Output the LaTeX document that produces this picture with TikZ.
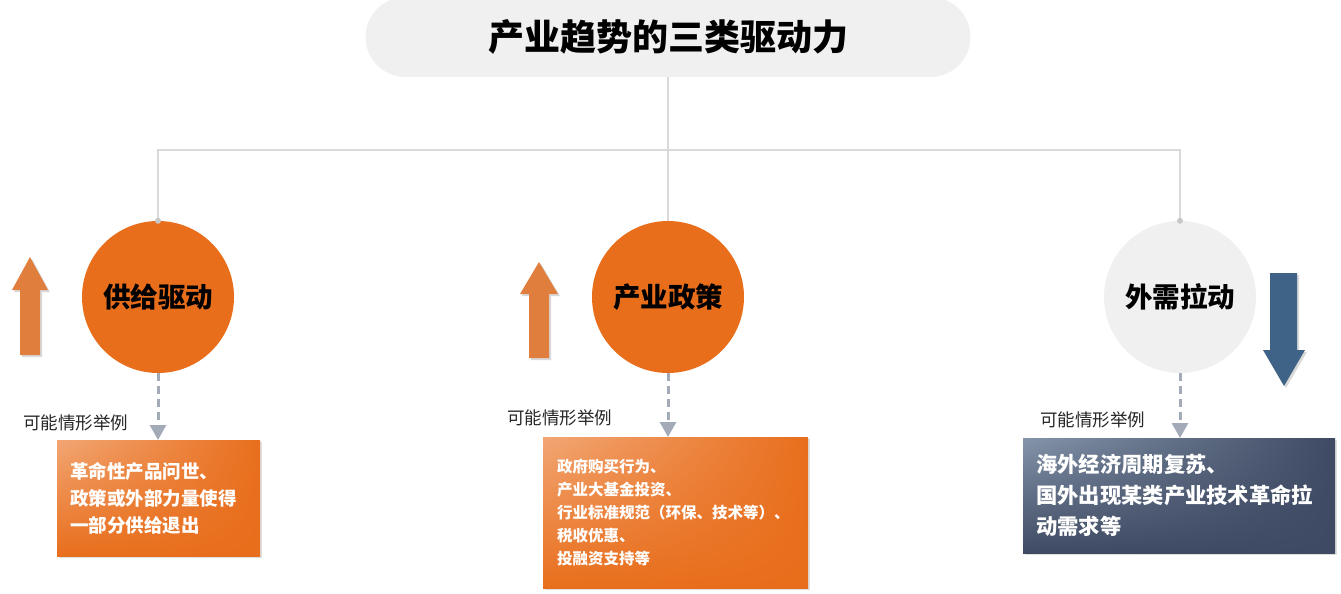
\documentclass[tikz,border=0pt]{standalone}
\usepackage{fontspec}
\setmainfont{Noto Sans CJK SC}
\usetikzlibrary{arrows.meta,positioning,shadows,shadings}

\definecolor{pillgray}{HTML}{F0F0F0}
\definecolor{linegray}{HTML}{D9D9D9}
\definecolor{drvorange}{HTML}{E86E1C}
\definecolor{lightorange}{HTML}{F2A674}
\definecolor{arroworange}{HTML}{E07E3E}
\definecolor{dashgray}{HTML}{A3ABB8}
\definecolor{slatedark}{HTML}{3E4A63}
\definecolor{slatelight}{HTML}{8494A9}
\definecolor{arrowblue}{HTML}{3F6287}

\begin{document}
\begin{tikzpicture}[
  x=1pt, y=-1pt,
  tree/.style={draw=linegray, line width=1.5pt},
  driver/.style={circle, minimum size=152pt, inner sep=0pt, font=\fontsize{27.5}{30}\selectfont\bfseries},
  hint/.style={-{Triangle[width=16pt,length=15pt]}, draw=dashgray, line width=3pt, dash pattern=on 8pt off 5pt},
  hintlabel/.style={anchor=east, font=\fontsize{17.5}{20}\selectfont, text=black!85},
  example/.style={anchor=north west, inner ysep=0pt, align=left, text=white, font=\bfseries,
    drop shadow={shadow xshift=2pt, shadow yshift=-2pt, opacity=0.25}},
  orangebox/.style={example, upper left=lightorange, upper right=drvorange, lower left=drvorange, lower right=drvorange},
  slatebox/.style={example, upper left=slatelight, upper right=slatedark, lower left=slatedark, lower right=slatedark},
  trend/.style={draw=none, drop shadow={shadow xshift=2pt, shadow yshift=-2pt, opacity=0.3}}
]
\useasboundingbox (0,0) rectangle (1341,594);

% title
\node[fill=pillgray, rounded corners=40pt, minimum width=605pt, minimum height=80pt,
  font=\fontsize{36}{40}\selectfont\bfseries] (title) at (668,37) {产业趋势的三类驱动力};

% three drivers
\node[driver, fill=drvorange] (supply) at (158,297) {供给驱动};
\node[driver, fill=drvorange] (policy) at (668,297) {产业政策};
\node[driver, fill=pillgray] (demand) at (1180,297) {外需拉动};

% tree lines
\coordinate (bus) at (668,150);
\draw[tree] (title.south) -- (bus);
\draw[tree] (bus) -| (supply.north);
\draw[tree] (bus) -- (policy.north);
\draw[tree] (bus) -| (demand.north);
\fill[linegray!80!gray] (demand.north) circle (3pt);
\fill[linegray!80!gray] (supply.north) circle (3pt);

% trend arrows
\fill[arroworange, trend] (20,355) -- (20,290) -- (12,290) -- (30,257) -- (48,290) -- (40,290) -- (40,355) -- cycle;
\fill[arroworange, trend] (529,358) -- (529,294) -- (520,294) -- (539,262) -- (558,294) -- (549,294) -- (549,358) -- cycle;
\fill[arrowblue, trend] (1270,273) -- (1297,273) -- (1297,350) -- (1305,350) -- (1284,386) -- (1263,350) -- (1270,350) -- cycle;

% example boxes
\node[orangebox, minimum width=203pt, minimum height=116pt, text width=177pt, inner xsep=13pt,
  font=\fontsize{18.5}{27}\selectfont\bfseries] (supplyex) at (57,440)
  {革命性产品问世、\\政策或外部力量使得\\一部分供给退出};
\node[orangebox, minimum width=265pt, minimum height=151pt, text width=237pt, inner xsep=14pt,
  font=\fontsize{15.5}{23}\selectfont\bfseries] (policyex) at (543,437)
  {政府购买行为、\\产业大基金投资、\\行业标准规范（环保、技术等）、\\税收优惠、\\投融资支持等};
\node[slatebox, minimum width=312pt, minimum height=115pt, text width=286pt, inner xsep=13pt,
  font=\fontsize{21.3}{31}\selectfont\bfseries] (demandex) at (1023,438)
  {海外经济周期复苏、\\国外出现某类产业技术革命拉\\动需求等};

% hint arrows
\draw[hint] (supply.south) -- (supply.south |- supplyex.north);
\draw[hint] (policy.south) -- (policy.south |- policyex.north);
\draw[hint] (demand.south) -- (demand.south |- demandex.north);

\node[hintlabel] (supplyhint) at (132,423) {可能情形举例};
\node[hintlabel] (policyhint) at (616,418) {可能情形举例};
\node[hintlabel] (demandhint) at (1149,420) {可能情形举例};
\end{tikzpicture}
\end{document}
